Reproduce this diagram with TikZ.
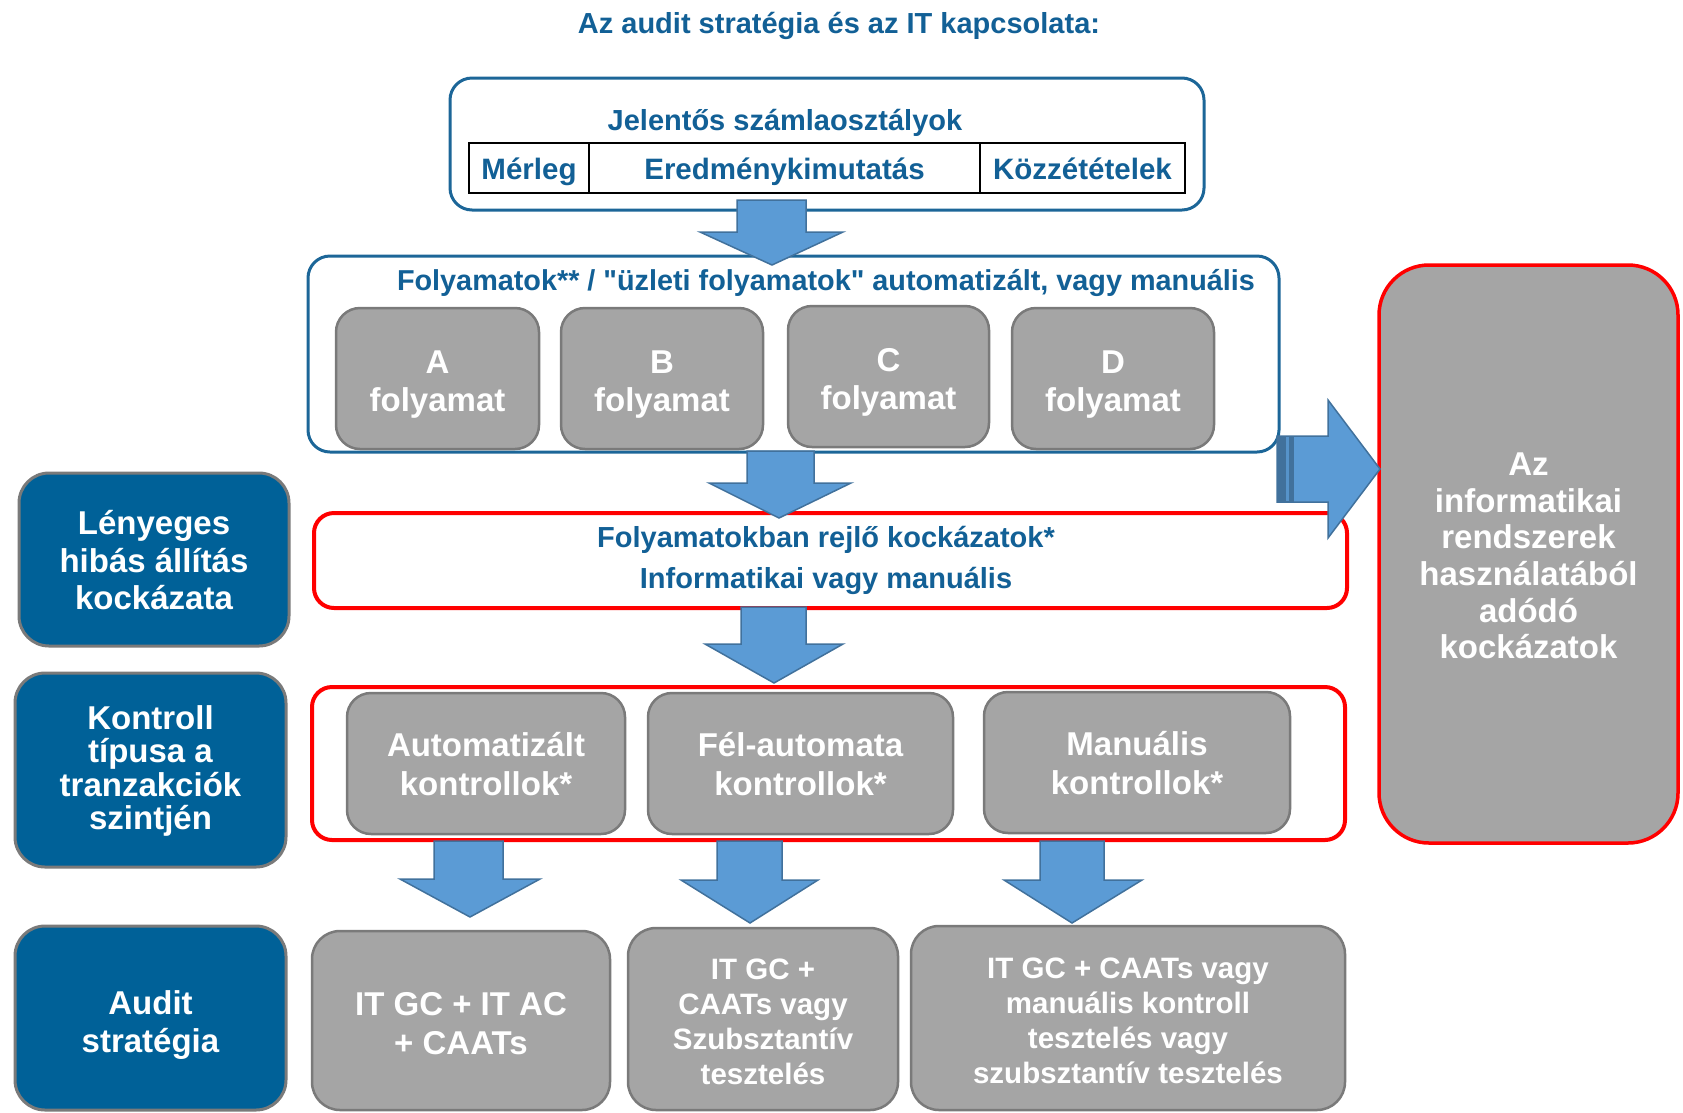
\documentclass[tikz,border=0pt]{standalone}
\usepackage{fontspec}
\setmainfont{Liberation Sans}
\newcommand\straightdq{\XeTeXglyph\XeTeXcharglyph34\relax}
\definecolor{titleblue}{RGB}{18,96,150}
\definecolor{boxblue}{RGB}{28,102,152}
\definecolor{leftfill}{RGB}{0,97,152}
\definecolor{grayfill}{RGB}{165,165,165}
\definecolor{grayline}{RGB}{122,122,122}
\definecolor{arrowfill}{RGB}{91,155,213}
\definecolor{arrowline}{RGB}{65,113,156}
\definecolor{redline}{RGB}{255,0,0}
\begin{document}
\begin{tikzpicture}[x=1pt,y=-1pt,
  bluebox/.style={draw=boxblue, fill=white, line width=3pt, rounded corners=22pt, inner sep=0pt},
  redbox/.style={draw=redline, fill=white, line width=4pt, rounded corners=20pt, inner sep=0pt},
  cell/.style={draw=black, line width=1.4pt, inner sep=0pt, text height=22pt, text depth=0pt, text=titleblue, font=\bfseries\fontsize{29.5}{35}\selectfont},
  gbox/.style={draw=grayline, fill=grayfill, line width=2.5pt, rounded corners=24pt, inner sep=0pt},
  lbox/.style={draw=grayline, fill=leftfill, line width=3pt, rounded corners=30pt, inner sep=0pt},
  wtext/.style={text=white, align=center, inner sep=0pt},
  bluetext/.style={text=titleblue, align=center, inner sep=0pt},
  barrow/.style={fill=arrowfill, draw=arrowline, line width=1.5pt, line join=miter}
]
\useasboundingbox (0,0) rectangle (1683,1112);

% title
\node[bluetext, font=\bfseries\fontsize{29}{35}\selectfont] (title) at (839,26) {Az audit stratégia és az IT kapcsolata:};

% accounts box
\node[bluebox, minimum width=754, minimum height=132] (acc) at (827,144) {};
\node[bluetext, font=\bfseries\fontsize{29}{35}\selectfont] (acctitle) at (785,123) {Jelentős számlaosztályok};
\node[cell, minimum width=120, minimum height=50] (merleg) at (529,168) {Mérleg};
\node[cell, minimum width=391, minimum height=50] (eredm) at (784.5,168) {Eredménykimutatás};
\node[cell, minimum width=205, minimum height=50] (kozz) at (1082.5,168) {Közzétételek};

% processes box
\node[bluebox, minimum width=971, minimum height=196] (proc) at (793.5,354) {};
\node[bluetext, font=\bfseries\fontsize{28.8}{34}\selectfont] (prochead) at (826,283) {Folyamatok** / \straightdq üzleti folyamatok\straightdq{} automatizált, vagy manuális};
\node[gbox, minimum width=203, minimum height=141] (pa) at (437.5,378.5) {};
\node[gbox, minimum width=202, minimum height=141] (pb) at (662,378.5) {};
\node[gbox, minimum width=201, minimum height=141] (pc) at (888.5,376.5) {};
\node[gbox, minimum width=202, minimum height=141] (pd) at (1113,378.5) {};
\node[wtext, font=\bfseries\fontsize{33}{38}\selectfont] (pat) at (437.5,384.5) {A\\folyamat};
\node[wtext, font=\bfseries\fontsize{33}{38}\selectfont] (pbt) at (662,384.5) {B\\folyamat};
\node[wtext, font=\bfseries\fontsize{33}{38}\selectfont] (pct) at (888.5,382.5) {C\\folyamat};
\node[wtext, font=\bfseries\fontsize{33}{38}\selectfont] (pdt) at (1113,384.5) {D\\folyamat};

% inherent risks box
\node[redbox, minimum width=1033, minimum height=95] (risk) at (830.5,560.5) {};
\node[bluetext, font=\bfseries\fontsize{29}{41}\selectfont] (risktext) at (826,560.5) {Folyamatokban rejlő kockázatok*\\Informatikai vagy manuális};

% controls box
\node[redbox, minimum width=1033, minimum height=153] (ctrl) at (828.5,763.5) {};
\node[gbox, minimum width=278, minimum height=141] (ca) at (486,763.5) {};
\node[gbox, minimum width=305, minimum height=141] (cb) at (800.5,763.5) {};
\node[gbox, minimum width=306, minimum height=141] (cc) at (1137,762.5) {};
\node[wtext, font=\bfseries\fontsize{33}{39}\selectfont] (cat) at (486,764.5) {Automatizált\\kontrollok*};
\node[wtext, font=\bfseries\fontsize{33}{39}\selectfont] (cbt) at (800.5,764.5) {Fél-automata\\kontrollok*};
\node[wtext, font=\bfseries\fontsize{33}{39}\selectfont] (cct) at (1137,763.5) {Manuális\\kontrollok*};

% right box
\node[draw=redline, fill=grayfill, line width=3.5pt, rounded corners=50pt, minimum width=299, minimum height=578, inner sep=0pt] (itrisk) at (1528.5,554) {};
\node[wtext, font=\bfseries\fontsize{33}{36.6}\selectfont] (itriskt) at (1528.5,556) {Az\\informatikai\\rendszerek\\használatából\\adódó\\kockázatok};

% left boxes
\node[lbox, minimum width=270, minimum height=173] (l1) at (154,559.5) {};
\node[wtext, font=\bfseries\fontsize{33}{37.5}\selectfont] (l1t) at (154,560.5) {Lényeges\\hibás állítás\\kockázata};
\node[lbox, minimum width=271, minimum height=194] (l2) at (150.5,770) {};
\node[wtext, font=\bfseries\fontsize{33}{33.5}\selectfont] (l2t) at (150.5,771) {Kontroll\\típusa a\\tranzakciók\\szintjén};
\node[lbox, minimum width=271, minimum height=184] (l3) at (150.5,1018) {};
\node[wtext, font=\bfseries\fontsize{33}{38.5}\selectfont] (l3t) at (150.5,1025) {Audit\\stratégia};

% bottom boxes
\node[gbox, rounded corners=28pt, minimum width=298, minimum height=179] (b1) at (461,1020.5) {};
\node[gbox, rounded corners=28pt, minimum width=270, minimum height=182] (b2) at (763,1019) {};
\node[gbox, rounded corners=28pt, minimum width=434, minimum height=184] (b3) at (1128,1018) {};
\node[wtext, font=\bfseries\fontsize{33}{39}\selectfont] (b1t) at (461,1023.5) {IT GC + IT AC\\+ CAATs};
\node[wtext, font=\bfseries\fontsize{29.5}{35}\selectfont] (b2t) at (763,1021.5) {IT GC +\\CAATs vagy\\Szubsztantív\\tesztelés};
\node[wtext, font=\bfseries\fontsize{29.5}{35}\selectfont] (b3t) at (1128,1021) {IT GC + CAATs vagy\\manuális kontroll\\tesztelés vagy\\szubsztantív tesztelés};

% block arrows (down)
\draw[barrow] (737,200) -- (806,200) -- (806,232) -- (843,232) -- (772,265) -- (700,232) -- (737,232) -- cycle;
\draw[barrow] (747,451) -- (814,451) -- (814,483) -- (851,483) -- (779,518) -- (709,483) -- (747,483) -- cycle;
\draw[barrow] (741,607) -- (806,607) -- (806,644) -- (843,644) -- (774,683) -- (705,644) -- (741,644) -- cycle;
\draw[barrow] (434,841) -- (503,841) -- (503,879) -- (540,879) -- (470,917) -- (400,879) -- (434,879) -- cycle;
\draw[barrow] (717,841) -- (782,841) -- (782,880) -- (818,880) -- (750,923) -- (681,880) -- (717,880) -- cycle;
\draw[barrow] (1040,841) -- (1104,841) -- (1104,880) -- (1142,880) -- (1072,923) -- (1004,880) -- (1040,880) -- cycle;

% block arrow (right)
\draw[barrow] (1277,436) -- (1328,436) -- (1328,400) -- (1380,469) -- (1328,538) -- (1328,502) -- (1277,502) -- cycle;
\fill[arrowline] (1277,436) rectangle (1294,502);
\fill[arrowfill!80!arrowline] (1286,437) rectangle (1289,501);
\end{tikzpicture}
\end{document}
